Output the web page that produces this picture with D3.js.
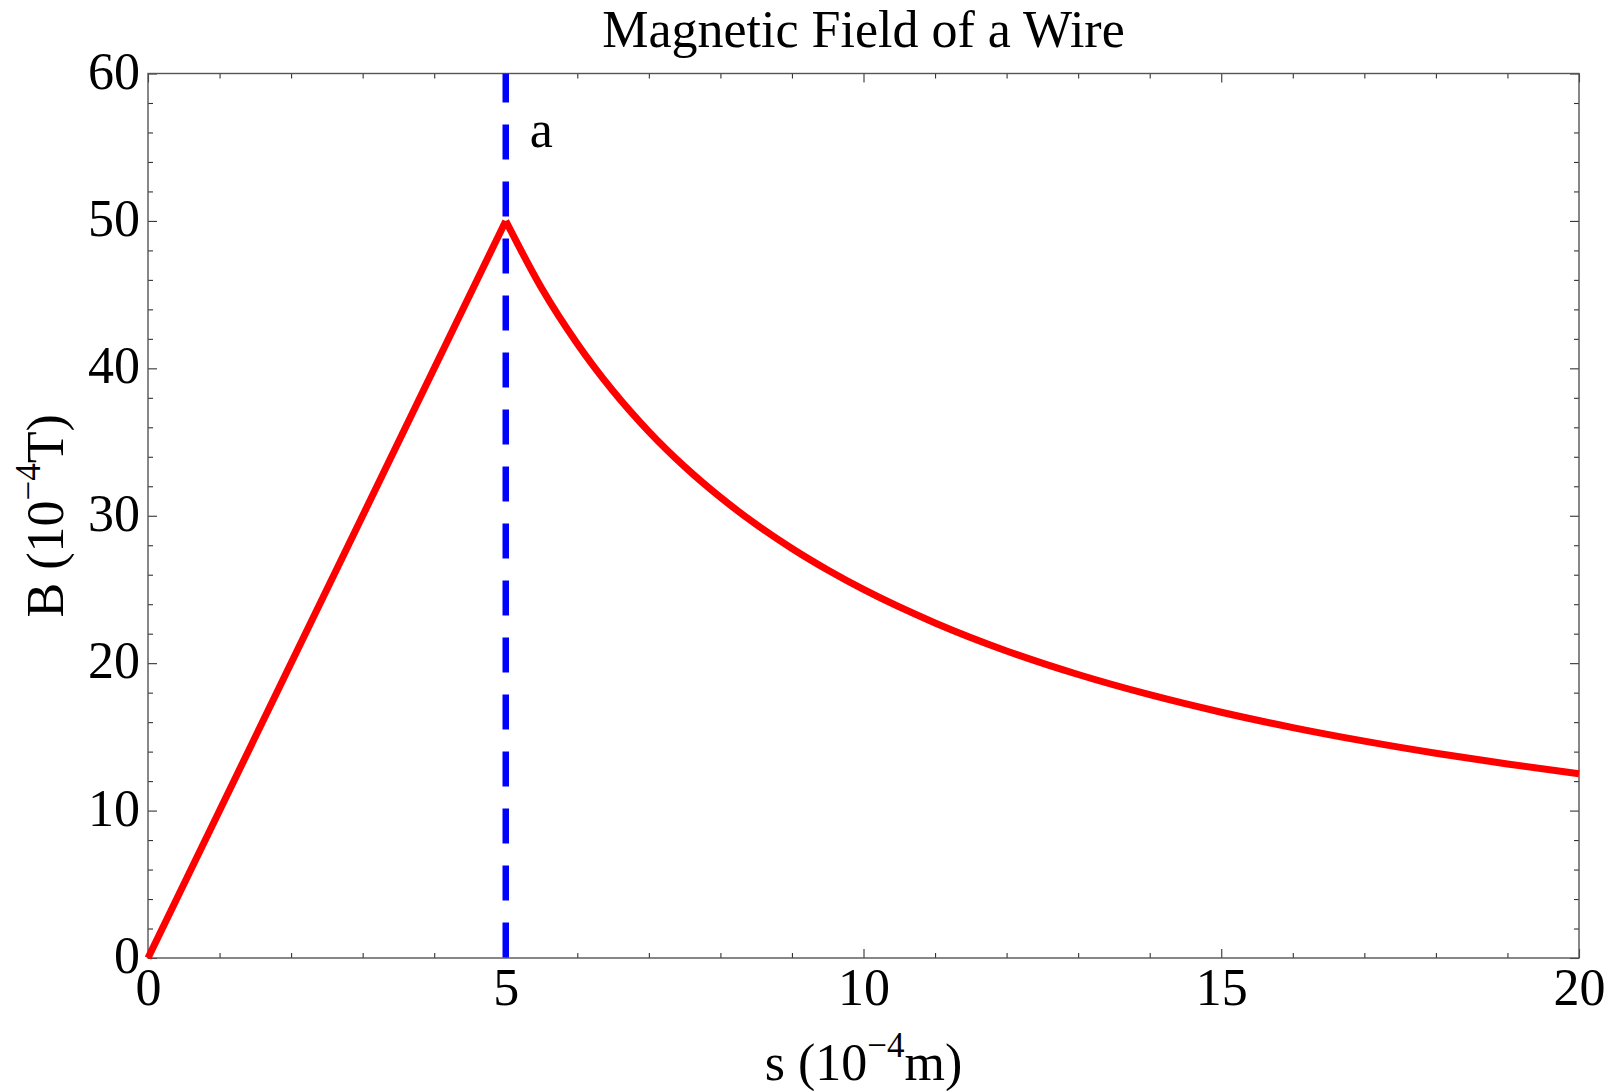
<!DOCTYPE html>
<html>
<head>
<meta charset="utf-8">
<script src="https://cdn.jsdelivr.net/npm/d3@7"></script>
<style>
  html, body { margin: 0; padding: 0; background: #fff; }
  svg text { font-family: "Liberation Serif", "DejaVu Serif", serif; fill: #000; }
  .axis path { display: none; }
  .axis line { stroke: #333; stroke-width: 1.1; }
</style>
</head>
<body>
<svg id="chart" width="1620" height="1091"></svg>
<script>
// s in 10^-4 m, B in 10^-4 T
var insideS = [0, 5];
var insideB = [0, 50];
var outsideS = [5, 5.5, 6, 6.5, 7, 7.5, 8, 8.5, 9, 9.5, 10, 11, 12, 13, 14, 15, 16, 17, 18, 19, 20];
var outsideB = [50, 45.45, 41.67, 38.46, 35.71, 33.33, 31.25, 29.41, 27.78, 26.32, 25,
                22.73, 20.83, 19.23, 17.86, 16.67, 15.63, 14.71, 13.89, 13.16, 12.5];
var radiusA = 5;

var xMajor = [0, 5, 10, 15, 20];
var xMinor = [1, 2, 3, 4, 6, 7, 8, 9, 11, 12, 13, 14, 16, 17, 18, 19];
var yMajor = [0, 10, 20, 30, 40, 50, 60];
var yMinor = [2, 4, 6, 8, 12, 14, 16, 18, 22, 24, 26, 28, 32, 34, 36, 38, 42, 44, 46, 48, 52, 54, 56, 58];

var margin = {top: 73.5, right: 41, bottom: 133, left: 148};
var width = 1620 - margin.left - margin.right,
    height = 1091 - margin.top - margin.bottom;

var svg = d3.select("#chart");
var g = svg.append("g")
    .attr("transform", "translate(" + margin.left + "," + margin.top + ")");

var x = d3.scaleLinear().domain([0, 20]).range([0, width]);
var y = d3.scaleLinear().domain([0, 60]).range([height, 0]);

// clip for the data
g.append("clipPath").attr("id", "clip")
  .append("rect").attr("width", width).attr("height", height);

// minor ticks, all four sides
g.append("g").attr("class", "axis")
    .attr("transform", "translate(0," + height + ")")
    .call(d3.axisBottom(x).tickValues(xMinor).tickSize(-5).tickFormat(""));
g.append("g").attr("class", "axis")
    .call(d3.axisTop(x).tickValues(xMinor).tickSize(-5).tickFormat(""));
g.append("g").attr("class", "axis")
    .call(d3.axisLeft(y).tickValues(yMinor).tickSize(-5).tickFormat(""));
g.append("g").attr("class", "axis")
    .attr("transform", "translate(" + width + ",0)")
    .call(d3.axisRight(y).tickValues(yMinor).tickSize(-5).tickFormat(""));

// major ticks
var xAxis = g.append("g").attr("class", "axis")
    .attr("transform", "translate(0," + height + ")")
    .call(d3.axisBottom(x).tickValues(xMajor).tickSize(-9).tickFormat(d3.format("d")));
xAxis.selectAll("text")
    .attr("y", 47).attr("dy", null)
    .style("font-size", "52px");

g.append("g").attr("class", "axis")
    .call(d3.axisTop(x).tickValues(xMajor).tickSize(-9).tickFormat(""));

var yAxis = g.append("g").attr("class", "axis")
    .call(d3.axisLeft(y).tickValues(yMajor).tickSize(-9).tickFormat(d3.format("d")));
yAxis.selectAll("text")
    .attr("x", -8).attr("dy", "0.28em")
    .style("font-size", "52px");

g.append("g").attr("class", "axis")
    .attr("transform", "translate(" + width + ",0)")
    .call(d3.axisRight(y).tickValues(yMajor).tickSize(-9).tickFormat(""));

// frame
g.append("rect")
    .attr("width", width).attr("height", height)
    .attr("fill", "none").attr("stroke", "#555").attr("stroke-width", 1.4);

// wire radius marker
g.append("line")
    .attr("clip-path", "url(#clip)")
    .attr("x1", x(radiusA)).attr("x2", x(radiusA))
    .attr("y1", y(60)).attr("y2", y(0))
    .attr("stroke", "#0000ff").attr("stroke-width", 6.5)
    .attr("stroke-dasharray", "35,22").attr("stroke-dashoffset", 6);

g.append("text")
    .attr("x", x(radiusA) + 24).attr("y", 73)
    .style("font-size", "52px")
    .text("a");

// field curve
var line = d3.line()
    .x(function(d) { return x(d[0]); })
    .y(function(d) { return y(d[1]); });

var inside = insideS.map(function(s, i) { return [s, insideB[i]]; });
var outside = outsideS.map(function(s, i) { return [s, outsideB[i]]; });

g.append("path")
    .datum(inside)
    .attr("fill", "none").attr("stroke", "#ff0000").attr("stroke-width", 7)
    .attr("stroke-linejoin", "round")
    .attr("d", line);

g.append("path")
    .datum(outside)
    .attr("fill", "none").attr("stroke", "#ff0000").attr("stroke-width", 7)
    .attr("stroke-linejoin", "round")
    .attr("d", line.curve(d3.curveMonotoneX));

// title
svg.append("text")
    .attr("x", margin.left + width / 2).attr("y", 47)
    .attr("text-anchor", "middle")
    .style("font-size", "52px")
    .text("Magnetic Field of a Wire");

// x label
var xl = svg.append("text")
    .attr("x", margin.left + width / 2).attr("y", 1080)
    .attr("text-anchor", "middle")
    .style("font-size", "52px");
xl.append("tspan").text("s (10");
xl.append("tspan").attr("dy", -23).style("font-size", "35px").text("\u22124");
xl.append("tspan").attr("dy", 23).text("m)");

// y label
var yl = svg.append("text")
    .attr("transform", "translate(63," + (margin.top + height / 2) + ")rotate(-90)")
    .attr("text-anchor", "middle")
    .style("font-size", "52px");
yl.append("tspan").text("B (10");
yl.append("tspan").attr("dy", -23).style("font-size", "35px").text("\u22124");
yl.append("tspan").attr("dy", 23).text("T)");
</script>
</body>
</html>
